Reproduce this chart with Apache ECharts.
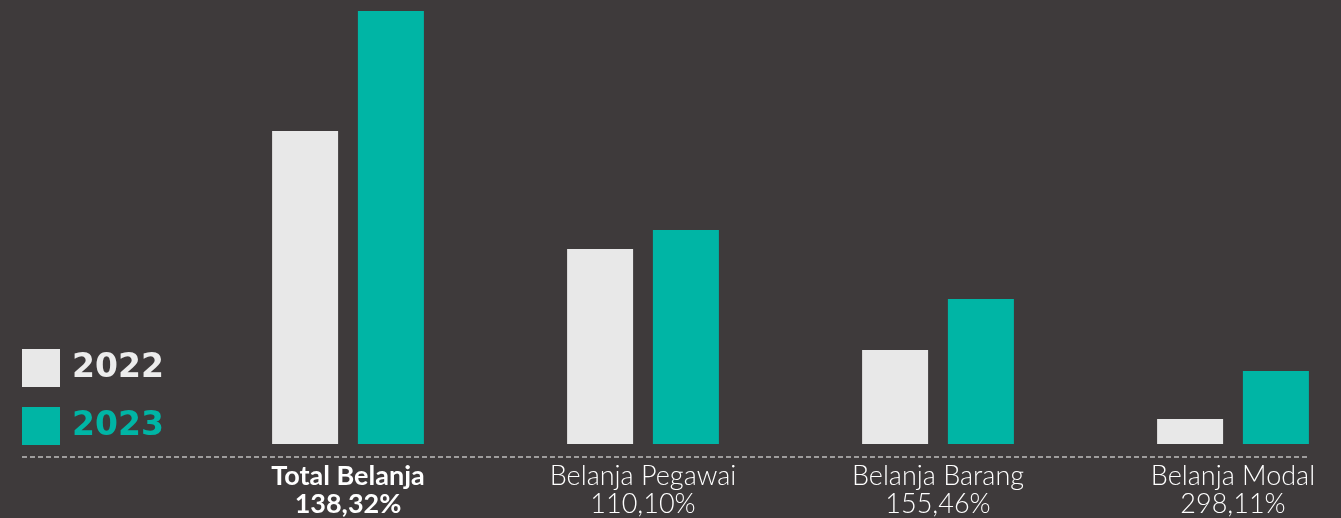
<!DOCTYPE html>
<html style="height: 100%">
<head>
    <meta charset="utf-8">
    <title>Belanja 2022 vs 2023</title>
</head>
<body style="height: 100%; margin: 0; background: #3e3a3b">
<div id="container" style="width:1341px;height:518px"></div>
<script type="text/javascript" src="https://cdn.jsdelivr.net/npm/echarts@6/dist/echarts.min.js"></script>
<script type="text/javascript">
var categories = ['Total Belanja', 'Belanja Pegawai', 'Belanja Barang', 'Belanja Modal'];
var growth = ['138,32%', '110,10%', '155,46%', '298,11%'];
var data2022 = [313, 195, 94, 25];
var data2023 = [433, 214, 145, 73];

var dom = document.getElementById('container');
var myChart = echarts.init(dom);
var font = 'Lato';

var option = {
    backgroundColor: '#3e3a3b',
    animation: false,
    legend: {
        orient: 'vertical',
        left: 22,
        top: 349,
        padding: 0,
        itemWidth: 38,
        itemHeight: 38,
        itemGap: 20,
        icon: 'rect',
        selectedMode: false,
        textStyle: {
            fontFamily: 'DejaVu Sans',
            fontWeight: 'bold',
            fontSize: 33,
            padding: [0, 0, 0, 7]
        },
        data: [
            { name: '2022', textStyle: { color: '#ececec' } },
            { name: '2023', textStyle: { color: '#00b5a5' } }
        ]
    },
    // categories sit on the ticks so the groups are 295px apart
    grid: {
        left: 348,
        top: 11,
        right: 108,
        height: 433
    },
    xAxis: {
        type: 'category',
        boundaryGap: false,
        data: categories,
        axisLine: { show: false },
        axisTick: { show: false },
        axisLabel: {
            margin: 18,
            interval: 0,
            formatter: function (value, idx) {
                if (idx === 0) {
                    return '{b|' + value + '}\n{b|' + growth[idx] + '}';
                }
                return '{n|' + value + '}\n{n|' + growth[idx] + '}';
            },
            rich: {
                b: { fontFamily: font, fontWeight: 'bold', fontSize: 27, color: '#ffffff', lineHeight: 28 },
                n: { fontFamily: font, fontWeight: 300, fontSize: 27, color: '#ffffff', lineHeight: 28 }
            }
        }
    },
    yAxis: {
        type: 'value',
        min: 0,
        max: 433,
        show: false,
        splitLine: { show: false }
    },
    graphic: [{
        type: 'line',
        shape: { x1: 22, y1: 457, x2: 1308, y2: 457 },
        style: { stroke: '#ffffff', lineWidth: 1.2, lineDash: [5, 3] },
        silent: true
    }],
    series: [{
        name: '2022',
        type: 'bar',
        clip: false,
        barWidth: 66,
        barGap: '30%',
        itemStyle: { color: '#e8e8e8' },
        data: data2022
    }, {
        name: '2023',
        type: 'bar',
        clip: false,
        barWidth: 66,
        itemStyle: { color: '#00b5a5' },
        data: data2023
    }]
};

myChart.setOption(option);
</script>
</body>
</html>
